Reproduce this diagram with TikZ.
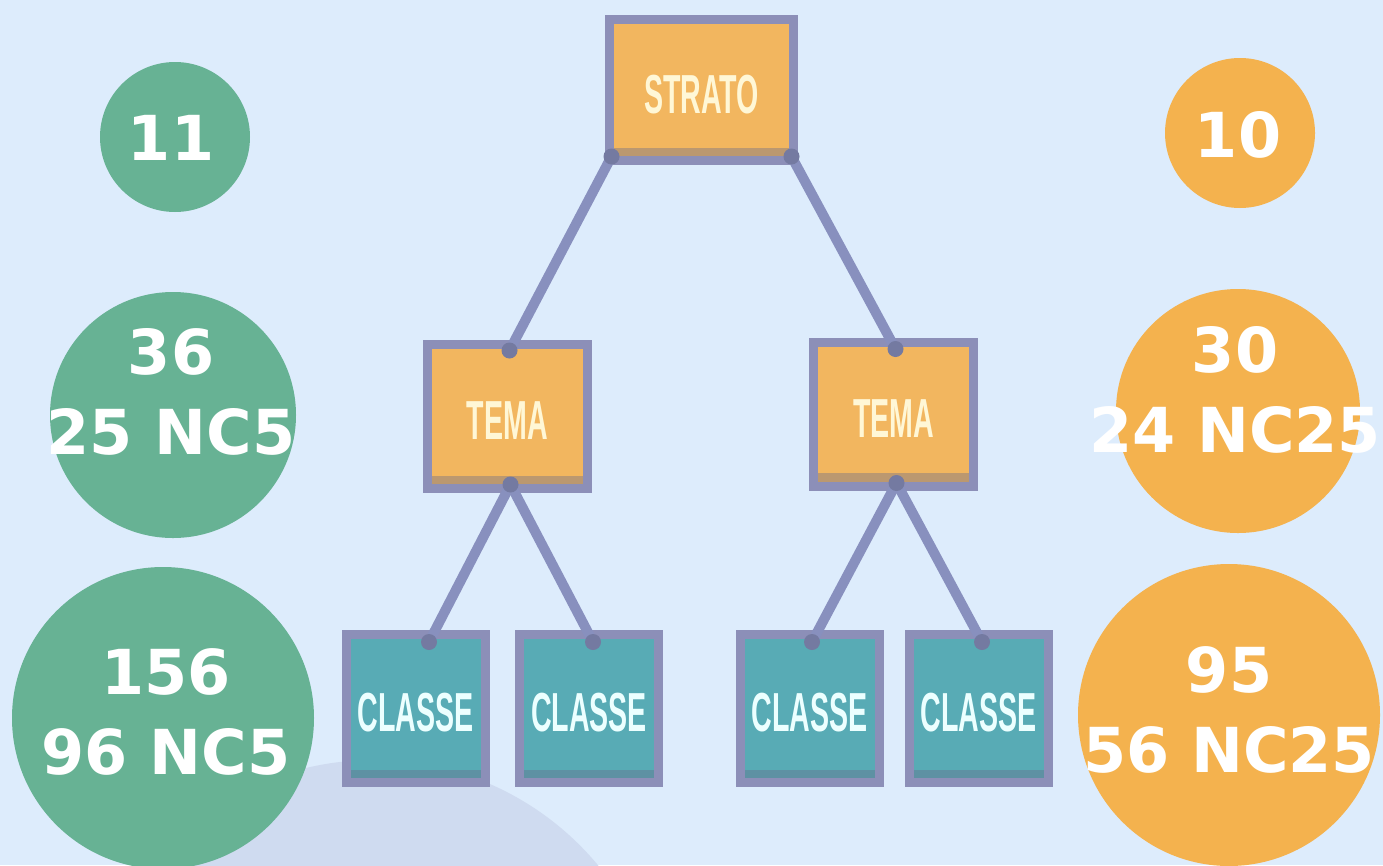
\documentclass[tikz,border=0pt]{standalone}
\usepackage{fontspec}
\newfontfamily\numfont{DejaVu Sans}
\newfontfamily\boxfont{Liberation Sans}[FakeStretch=0.52]
\usepackage{xcolor}
\definecolor{PageBlue}{RGB}{221,236,252}
\definecolor{HillBlue}{RGB}{207,219,240}
\definecolor{DotGreen}{RGB}{103,178,148}
\definecolor{DotOrange}{RGB}{244,178,78}
\definecolor{BoxOrange}{RGB}{242,182,95}
\definecolor{BoxTeal}{RGB}{88,171,181}
\definecolor{EdgeGray}{RGB}{140,143,184}
\definecolor{LinkGray}{RGB}{136,144,190}
\definecolor{TextCream}{RGB}{255,247,214}
\definecolor{TextCyan}{RGB}{236,255,255}
\usetikzlibrary{positioning}
\usetikzlibrary{calc}

\begin{document}
\begin{tikzpicture}[
      x=1pt, y=-1pt
      , box/.style={rectangle, draw=EdgeGray, line width=9pt, inner sep=0pt, outer sep=0pt, text height=46pt, text depth=0pt, font=\boxfont\bfseries\fontsize{55}{60}\selectfont
          , path picture={\fill[EdgeGray!75!black, opacity=0.4] ([yshift=13pt]path picture bounding box.south west) rectangle (path picture bounding box.south east);}}
      , topbox/.style={box, fill=BoxOrange, text=TextCream, minimum width=184pt, minimum height=141pt}
      , midbox/.style={box, fill=BoxOrange, text=TextCream, minimum width=160pt, minimum height=144pt}
      , leafbox/.style={box, fill=BoxTeal, text=TextCyan, minimum width=139pt, minimum height=148pt}
      , link/.style={draw=LinkGray, line width=10pt}
      , knot/.style={fill=LinkGray!85!black}
      , blob/.style={circle, inner sep=0pt}
      , count/.style={text=white, align=center, inner sep=0pt, font=\numfont\bfseries\fontsize{62}{80}\selectfont}
      , on grid
      ]

      \useasboundingbox (0,0) rectangle (1383,865);
      \fill[PageBlue] (0,0) rectangle (1383,865);
      \fill[HillBlue] (374,1051) circle (291);

      % tree
      \node[topbox] (strato) at (701.5,90) {STRATO};
      \node[midbox, below left = 326.5pt and 194pt of strato] (tema-left) {TEMA};
      \node[midbox, below right = 324pt and 192pt of strato] (tema-right) {TEMA};

      \node[leafbox, below left = 292pt and 92pt of tema-left] (classe-1) {CLASSE};
      \node[leafbox, below right = 292pt and 81.5pt of tema-left] (classe-2) {CLASSE};
      \node[leafbox, below left = 294.5pt and 84pt of tema-right] (classe-3) {CLASSE};
      \node[leafbox, below right = 294.5pt and 85pt of tema-right] (classe-4) {CLASSE};

      \coordinate (strato-l) at ($ (strato.south west)+(2,-4) $);
      \coordinate (strato-r) at ($ (strato.south east)+(-2,-4) $);
      \coordinate (tema-left-top) at ($ (tema-left.north)+(2,6) $);
      \coordinate (tema-right-top) at ($ (tema-right.north)+(2,7) $);
      \coordinate (tema-left-bot) at ($ (tema-left.south)+(3,-4) $);
      \coordinate (tema-right-bot) at ($ (tema-right.south)+(3,-3) $);
      \coordinate (classe-1-top) at ($ (classe-1.north)+(13.5,7.5) $);
      \coordinate (classe-2-top) at ($ (classe-2.north)+(4,7.5) $);
      \coordinate (classe-3-top) at ($ (classe-3.north)+(2.5,7.5) $);
      \coordinate (classe-4-top) at ($ (classe-4.north)+(3.5,7.5) $);

      \draw[link] (strato-l) -- (tema-left-top);
      \draw[link] (strato-r) -- (tema-right-top);
      \draw[link] (tema-left-bot) -- (classe-1-top);
      \draw[link] (tema-left-bot) -- (classe-2-top);
      \draw[link] (tema-right-bot) -- (classe-3-top);
      \draw[link] (tema-right-bot) -- (classe-4-top);

      \foreach \k in {strato-l, strato-r, tema-left-top, tema-right-top, tema-left-bot, tema-right-bot, classe-1-top, classe-2-top, classe-3-top, classe-4-top}
        \fill[knot] (\k) circle (8);

      % counts, left
      \node[blob, fill=DotGreen, minimum size=150pt] (green-1) at (175,137) {};
      \node[blob, fill=DotGreen, minimum size=246pt] (green-2) at (173,415) {};
      \node[blob, fill=DotGreen, minimum size=302pt] (green-3) at (163,718) {};
      \node[count] (green-1-txt) at (171,138) {11};
      \node[count] (green-2-txt) at (171,392) {36\\25 NC5};
      \node[count] (green-3-txt) at (166,712) {156\\96 NC5};

      % counts, right
      \node[blob, fill=DotOrange, minimum size=150pt] (orange-1) at (1240,133) {};
      \node[blob, fill=DotOrange, minimum size=244pt] (orange-2) at (1238,411) {};
      \node[blob, fill=DotOrange, minimum size=302pt] (orange-3) at (1229,715) {};
      \node[count] (orange-1-txt) at (1238,135) {10};
      \node[count] (orange-2-txt) at (1235,390) {30\\24 NC25};
      \node[count] (orange-3-txt) at (1229,710) {95\\56 NC25};
    \end{tikzpicture}
\end{document}
